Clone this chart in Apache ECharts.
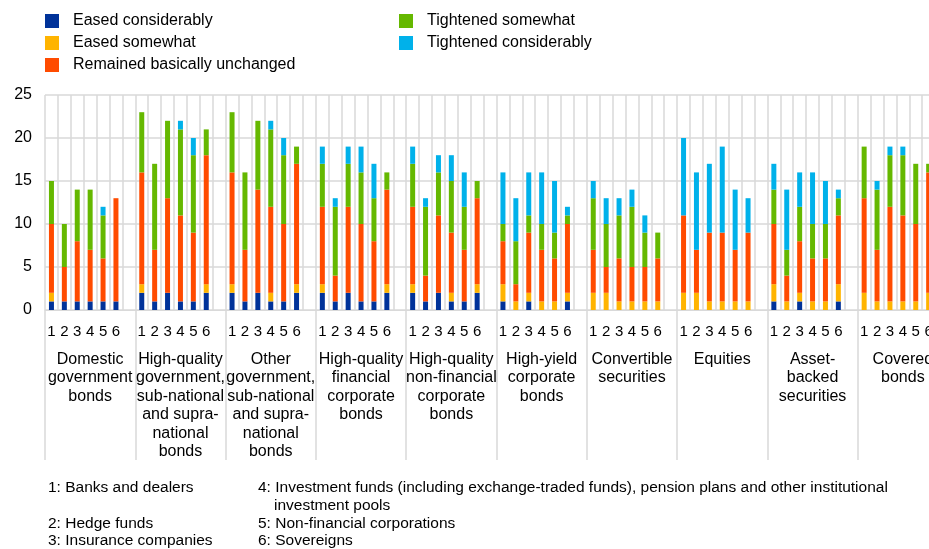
<!DOCTYPE html>
<html>
<head>
<meta charset="utf-8">
<script src="https://cdn.jsdelivr.net/npm/echarts@6/dist/echarts.min.js"></script>
<style>
  html, body { margin: 0; padding: 0; background: #fff; overflow: hidden; }
  body { width: 929px; height: 549px; }
  #chart { width: 948px; height: 549px; }
</style>
</head>
<body>
<div id="chart"></div>
<script>
// groups of instrument types, each with 6 counterparty bars (1..6)
var groups = [
  'Domestic\ngovernment\nbonds',
  'High-quality\ngovernment,\nsub-national\nand supra-\nnational\nbonds',
  'Other\ngovernment,\nsub-national\nand supra-\nnational\nbonds',
  'High-quality\nfinancial\ncorporate\nbonds',
  'High-quality\nnon-financial\ncorporate\nbonds',
  'High-yield\ncorporate\nbonds',
  'Convertible\nsecurities',
  'Equities',
  'Asset-\nbacked\nsecurities',
  'Covered\nbonds'
];
var slotLabels = ['1', '2', '3', '4', '5', '6'];

var seriesNames = ['Eased considerably', 'Eased somewhat', 'Remained basically unchanged',
  'Tightened somewhat', 'Tightened considerably'];

// values per group, 6 bars each
var easedConsiderably = [
  1, 1, 1, 1, 1, 1,
  2, 1, 2, 1, 1, 2,
  2, 1, 2, 1, 1, 2,
  2, 1, 2, 1, 1, 2,
  2, 1, 2, 1, 1, 2,
  1, 0, 1, 0, 0, 1,
  0, 0, 0, 0, 0, 0,
  0, 0, 0, 0, 0, 0,
  1, 0, 1, 0, 0, 1,
  0, 0, 0, 0, 0, 0
];
var easedSomewhat = [
  1, 0, 0, 0, 0, 0,
  1, 0, 0, 0, 0, 1,
  1, 0, 0, 1, 0, 1,
  1, 0, 0, 0, 0, 1,
  1, 0, 0, 1, 0, 1,
  2, 1, 1, 1, 1, 1,
  2, 2, 1, 1, 1, 1,
  2, 2, 1, 1, 1, 1,
  2, 1, 1, 1, 1, 2,
  2, 1, 1, 1, 1, 2
];
var unchanged = [
  8, 4, 7, 6, 5, 12,
  13, 6, 11, 10, 8, 15,
  13, 6, 12, 10, 9, 14,
  9, 3, 10, 9, 7, 11,
  9, 3, 9, 7, 6, 10,
  5, 2, 7, 6, 5, 8,
  5, 3, 5, 4, 4, 5,
  9, 5, 8, 8, 6, 8,
  7, 3, 6, 5, 5, 8,
  11, 6, 11, 10, 9, 14
];
var tightenedSomewhat = [
  5, 5, 6, 7, 5, 0,
  7, 10, 9, 10, 9, 3,
  7, 9, 8, 9, 8, 2,
  5, 8, 5, 6, 5, 2,
  5, 8, 5, 6, 5, 2,
  2, 5, 2, 3, 3, 1,
  6, 5, 5, 7, 4, 3,
  0, 0, 0, 0, 0, 0,
  4, 3, 4, 4, 4, 2,
  6, 7, 6, 7, 7, 1
];
var tightenedConsiderably = [
  0, 0, 0, 0, 1, 0,
  0, 0, 0, 1, 2, 0,
  0, 0, 0, 1, 2, 0,
  2, 1, 2, 3, 4, 0,
  2, 1, 2, 3, 4, 0,
  6, 5, 5, 6, 6, 1,
  2, 3, 2, 2, 2, 0,
  9, 9, 8, 10, 7, 4,
  3, 7, 4, 6, 5, 1,
  0, 1, 1, 1, 0, 0
];
var yTicks = [0, 5, 10, 15, 20, 25];

var colors = ['#003299', '#FFB400', '#FF4B00', '#65B800', '#00B1EA'];

var notesLeft = ['1: Banks and dealers', '', '2: Hedge funds', '3: Insurance companies'];
var notesRight = ['4: Investment funds (including exchange-traded funds), pension plans and other institutional',
  'investment pools', '5: Non-financial corporations', '6: Sovereigns'];

// 7 slots per group: 6 bars + one empty gap
var slots = [];
for (var g = 0; g < groups.length; g++) {
  for (var s = 0; s < 6; s++) slots.push(slotLabels[s]);
  slots.push('');
}
function spread(arr) {
  var out = [];
  for (var g = 0; g < groups.length; g++) {
    for (var s = 0; s < 6; s++) {
      var v = arr[g * 6 + s];
      out.push(v === 0 ? '-' : v);
    }
    out.push('-');
  }
  return out;
}
var allData = [easedConsiderably, easedSomewhat, unchanged, tightenedSomewhat, tightenedConsiderably];

var font = 'Liberation Sans';
var chart = echarts.init(document.getElementById('chart'), null, { renderer: 'canvas' });

var series = seriesNames.map(function (name, i) {
  return {
    name: name,
    type: 'bar',
    stack: 'all',
    barWidth: 5,
    data: spread(allData[i]),
    itemStyle: { color: colors[i] }
  };
});

var graphics = [];
for (var i = 0; i < notesRight.length; i++) {
  var y = 489 + i * 17.7 - 9;
  if (notesLeft[i]) {
    graphics.push({ type: 'text', left: 48, top: y, style: { text: notesLeft[i], font: '15.5px ' + font, fill: '#000' } });
  }
  graphics.push({ type: 'text', left: i === 1 ? 274 : 258, top: y, style: { text: notesRight[i], font: '15.5px ' + font, fill: '#000' } });
}

function legendBlock(names, left) {
  return {
    data: names,
    orient: 'vertical',
    left: left,
    top: 8,
    icon: 'rect',
    itemWidth: 14,
    itemHeight: 14,
    itemGap: 6,
    textStyle: { fontSize: 16, lineHeight: 16, color: '#000', fontFamily: font, padding: [0, 0, 0, 9] }
  };
}

var option = {
  animation: false,
  color: colors,
  textStyle: { fontFamily: font },
  legend: [legendBlock(seriesNames.slice(0, 3), 40), legendBlock(seriesNames.slice(3), 394)],
  grid: { left: 45, right: 0, top: 95, bottom: 239 },
  xAxis: [{
    type: 'category',
    data: slots,
    axisLine: { lineStyle: { color: '#d9d9d9', width: 1 } },
    axisTick: { show: false },
    axisLabel: { interval: 0, fontSize: 15, color: '#000', margin: 14, fontFamily: font },
    splitLine: { show: true, interval: 0, lineStyle: { color: '#d9d9d9', width: 1.5 } }
  }, {
    type: 'category',
    position: 'bottom',
    data: groups,
    axisLine: { show: false },
    axisTick: { show: true, interval: 0, length: 150, lineStyle: { color: '#d9d9d9', width: 1.5 } },
    axisLabel: { interval: 0, fontSize: 16, lineHeight: 18.5, color: '#000', margin: 40, fontFamily: font, verticalAlign: 'top' }
  }],
  yAxis: {
    type: 'value',
    min: yTicks[0],
    max: yTicks[yTicks.length - 1],
    interval: 5,
    axisLine: { show: false },
    axisTick: { show: false },
    axisLabel: { fontSize: 16, color: '#000', margin: 13, fontFamily: font },
    splitLine: { lineStyle: { color: '#d9d9d9', width: 1.5 } }
  },
  graphic: graphics,
  series: series
};
chart.setOption(option);
</script>
</body>
</html>
